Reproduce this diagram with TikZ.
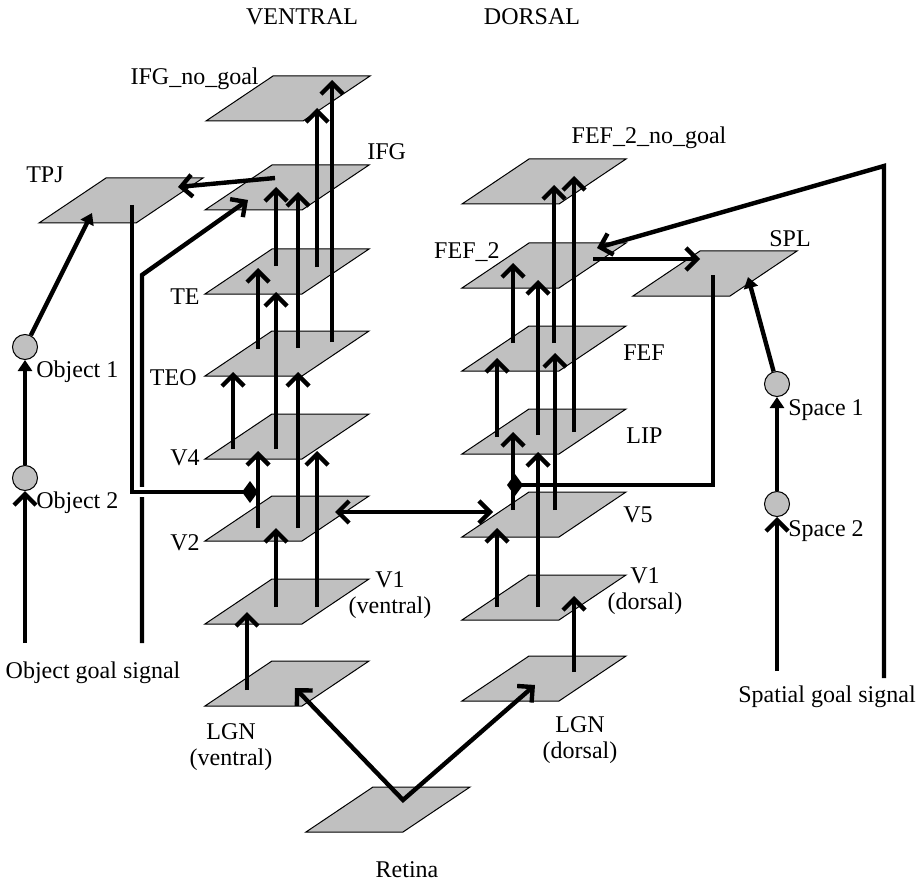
\documentclass[tikz,border=0pt]{standalone}
\usepackage{fontspec}
\setmainfont{Liberation Serif}
\usetikzlibrary{arrows.meta}

\definecolor{planegray}{RGB}{192,192,192}

\begin{document}
\begin{tikzpicture}[
    x=0.5pt, y=-0.5pt,
    >={Straight Barb[length=5.5pt,width=11pt]},
    plane/.pic={\draw[fill=planegray, line width=0.5pt] (-82,22.5) -- ++(97,0) -- ++(67,-45) -- ++(-97,0) -- cycle;},
    blob/.style={draw, circle, fill=planegray, minimum size=12.5pt, inner sep=0pt, line width=0.5pt},
    txt/.style={inner sep=0pt, font=\fontsize{12}{13}\selectfont, align=center},
    arrow/.style={->, line width=2.2pt},
    twoway/.style={<->, line width=2.2pt},
    filltip/.style={-{Triangle[length=5.5pt,width=7pt]}, line width=2.2pt},
    gate/.style={-{Diamond[length=8pt,width=11pt]}, line width=2.2pt}
  ]
    \useasboundingbox (0,0) rectangle (922,883);

    % Planes
    \path (288,98.5) coordinate (ifgng) pic {plane};
    \path (287,187.5) coordinate (ifg) pic {plane};
    \path (287,271.5) coordinate (te) pic {plane};
    \path (287,353.5) coordinate (teo) pic {plane};
    \path (287,436.5) coordinate (v4) pic {plane};
    \path (287,518.5) coordinate (v2) pic {plane};
    \path (287,601.5) coordinate (v1v) pic {plane};
    \path (287,683.5) coordinate (lgnv) pic {plane};
    \path (388,809.5) coordinate (retina) pic {plane};
    \path (544,181.5) coordinate (fef2ng) pic {plane};
    \path (544,265.5) coordinate (fef2) pic {plane};
    \path (544,348.5) coordinate (fef) pic {plane};
    \path (544,431.5) coordinate (lip) pic {plane};
    \path (544,514.5) coordinate (v5) pic {plane};
    \path (544,597.5) coordinate (v1d) pic {plane};
    \path (544,678.5) coordinate (lgnd) pic {plane};
    \path (715,273.5) coordinate (spl) pic {plane};
    \path (121,200.5) coordinate (tpj) pic {plane};

    % Goal units
    \node[blob] (obj1) at (25,347) {};
    \node[blob] (obj2) at (25,478) {};
    \node[blob] (sp1) at (777,384) {};
    \node[blob] (sp2) at (777,504) {};

    % Labels
    \node[txt, anchor=base] (lventral) at (302,25) {VENTRAL};
    \node[txt, anchor=base] (ldorsal) at (532,25) {DORSAL};
    \node[txt, anchor=base east] (lifgng) at (259,85) {IFG\_no\_goal};
    \node[txt, anchor=base west] (lifg) at (367,160) {IFG};
    \node[txt, anchor=base] (ltpj) at (45,183) {TPJ};
    \node[txt, anchor=base] (lfef2ng) at (649,144) {FEF\_2\_no\_goal};
    \node[txt, anchor=base east] (lfef2) at (500,258) {FEF\_2};
    \node[txt, anchor=base] (lspl) at (790,247) {SPL};
    \node[txt, anchor=base east] (lte) at (200,305) {TE};
    \node[txt, anchor=base east] (lteo) at (197,385) {TEO};
    \node[txt, anchor=base east] (lv4) at (200,465) {V4};
    \node[txt, anchor=base east] (lv2) at (200,550) {V2};
    \node[txt, anchor=base] (lv1v) at (390,613) {V1\\(ventral)};
    \node[txt, anchor=base] (llgnv) at (231,765) {LGN\\(ventral)};
    \node[txt, anchor=base] (lretina) at (407,877) {Retina};
    \node[txt, anchor=base west] (lfef) at (623,360) {FEF};
    \node[txt, anchor=base west] (llip) at (626,443) {LIP};
    \node[txt, anchor=base west] (lv5) at (623,522) {V5};
    \node[txt, anchor=base] (lv1d) at (645,609) {V1\\(dorsal)};
    \node[txt, anchor=base] (llgnd) at (580,758) {LGN\\(dorsal)};
    \node[txt, anchor=base west] (lobj1) at (36,377) {Object 1};
    \node[txt, anchor=base west] (lobj2) at (36,508) {Object 2};
    \node[txt, anchor=base west] (lsp1) at (788,415) {Space 1};
    \node[txt, anchor=base west] (lsp2) at (788,536) {Space 2};
    \node[txt, anchor=base] (logoal) at (93,678) {Object goal signal};
    \node[txt, anchor=base] (lsgoal) at (827,702) {Spatial goal signal};

    % Signal ends
    \coordinate (og1) at (25,643);
    \coordinate (og2) at (142,643);
    \coordinate (ogbend) at (142,275);
    \coordinate (sg1) at (777,671);
    \coordinate (sg2) at (884,678);
    \coordinate (sgbend) at (884,166);

    % Ventral stream
    \draw[twoway] ([shift={(8,4.5)}]lgnv) -- ([shift={(15,-9.5)}]retina) -- ([shift={(-9,6.5)}]lgnd);
    \draw[arrow] ([shift={(-40,6.5)}]lgnv) -- ([shift={(-40,10.5)}]v1v);
    \draw[arrow] ([shift={(-11,5.5)}]v1v) -- ([shift={(-11,9.5)}]v2);
    \draw[arrow] ([shift={(30,5.5)}]v1v) -- ([shift={(30,14.5)}]v4);
    \draw[arrow] ([shift={(-29,9.5)}]v2) -- ([shift={(-29,14.5)}]v4);
    \draw[arrow] ([shift={(11,9.5)}]v2) -- ([shift={(11,18.5)}]teo);
    \draw[arrow] ([shift={(-54,12.5)}]v4) -- ([shift={(-54,18.5)}]teo);
    \draw[arrow] ([shift={(-11,12.5)}]v4) -- ([shift={(-11,20.5)}]te);
    \draw[arrow] ([shift={(-29,-4.5)}]teo) -- ([shift={(-29,-3.5)}]te);
    \draw[arrow] ([shift={(11,-5.5)}]teo) -- ([shift={(11,4.5)}]ifg);
    \draw[arrow] ([shift={(-11,-5.5)}]te) -- ([shift={(-11,-0.5)}]ifg);
    \draw[arrow] ([shift={(30,-4.5)}]te) -- ([shift={(29,9.5)}]ifgng);
    \draw[arrow] ([shift={(45,-11.5)}]teo) -- ([shift={(44,-18.5)}]ifgng);

    % Dorsal stream
    \draw[arrow] ([shift={(30,-6.5)}]lgnd) -- ([shift={(30,-1.5)}]v1d);
    \draw[arrow] ([shift={(-47,9.5)}]v1d) -- ([shift={(-47,13.5)}]v5);
    \draw[arrow] ([shift={(-6,9.5)}]v1d) -- ([shift={(-6,20.5)}]lip);
    \draw[arrow] ([shift={(-31,-4.5)}]v5) -- ([shift={(-31,0.5)}]lip);
    \draw[arrow] ([shift={(11,-4.5)}]v5) -- ([shift={(11,4.5)}]fef);
    \draw[arrow] ([shift={(-47,5.5)}]lip) -- ([shift={(-47,9.5)}]fef);
    \draw[arrow] ([shift={(-6,3.5)}]lip) -- ([shift={(-6,14.5)}]fef2);
    \draw[arrow] ([shift={(-31,-5.5)}]fef) -- ([shift={(-31,-2.5)}]fef2);
    \draw[arrow] ([shift={(30,0.5)}]lip) -- ([shift={(30,-5.5)}]fef2ng);
    \draw[arrow] ([shift={(10,-5.5)}]fef) -- ([shift={(10,3.5)}]fef2ng);
    \draw[twoway] ([shift={(48,-6.5)}]v2) -- ([shift={(-51,-2.5)}]v5);

    % Object goal
    \draw[arrow] (og1) -- (obj2);
    \draw[filltip] (obj2) -- (obj1);
    \draw[filltip] (obj1) -- ([shift={(-29,12.5)}]tpj);
    \draw[arrow] (og2) -- (ogbend) -- ([shift={(-39,12.5)}]ifg);
    \draw[arrow] ([shift={(-12,-9.5)}]ifg) -- ([shift={(57,-13.5)}]tpj);
    \fill[white] (137,487) rectangle (147,497);
    \draw[gate] ([shift={(11,4.5)}]tpj) |- ([shift={(-29,-26.5)}]v2);

    % Spatial goal
    \draw[arrow] (sg1) -- (sp2);
    \draw[filltip] (sp2) -- (sp1);
    \draw[filltip] (sp1) -- ([shift={(33,3.5)}]spl);
    \draw[arrow] (sg2) -- (sgbend) -- ([shift={(53,-17.5)}]fef2);
    \draw[arrow] ([shift={(49,-6.5)}]fef2) -- ([shift={(-15,-14.5)}]spl);
    \draw[gate] ([shift={(-2,1.5)}]spl) |- ([shift={(-37,-29.5)}]v5);
  \end{tikzpicture}
\end{document}
